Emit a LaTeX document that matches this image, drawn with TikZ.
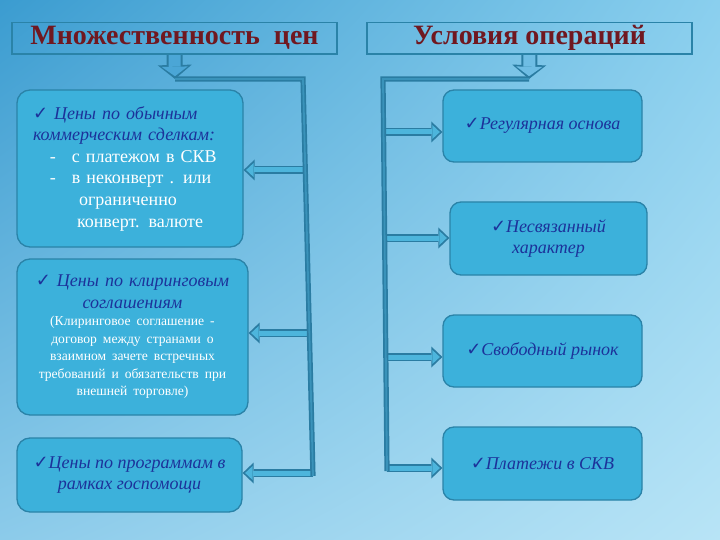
\documentclass[tikz,border=0pt]{standalone}
\usepackage{fontspec}
\setmainfont{Liberation Serif}
\newfontfamily\checkfont{DejaVu Sans}
\usetikzlibrary{arrows.meta,positioning,shadings}

\definecolor{bgTL}{HTML}{3B9CD0}
\definecolor{bgTR}{HTML}{8ACFEE}
\definecolor{bgBL}{HTML}{8CCBEA}
\definecolor{bgBR}{HTML}{B8E4F6}
\definecolor{boxfill}{HTML}{3CB1DB}
\definecolor{boxline}{HTML}{2A83A8}
\definecolor{busdark}{HTML}{2A7CA2}
\definecolor{busmid}{HTML}{3A93BA}
\definecolor{buslight}{HTML}{4DB5DC}
\definecolor{titlered}{HTML}{701820}
\definecolor{itemblue}{HTML}{1C329A}

\newcommand{\chk}{{\checkfont ✓}}

\begin{document}
\begin{tikzpicture}[x=1pt,y=-1pt,
    titlebox/.style={draw=boxline, line width=1.8pt, minimum width=325pt, minimum height=31pt,
        inner sep=0pt, text=titlered, font=\fontsize{28}{30}\selectfont\bfseries},
    itembox/.style={draw=boxline, fill=boxfill, line width=1.3pt, rounded corners=13pt,
        inner sep=0pt, text=itemblue, font=\fontsize{18}{21.6}\selectfont\itshape, align=center},
    bus/.style={draw=busdark, double=busmid, line width=1.7pt, double distance=1.8pt},
    arrowout/.style={draw=busdark, line width=8pt, -{Triangle[length=11pt,width=21pt,line width=0pt]}},
    arrowin/.style={draw=buslight, line width=5pt, shorten >=2.5pt, -{Triangle[length=7.5pt,width=14pt,line width=0pt]}},
    downout/.style={draw=busdark, line width=16pt, -{Triangle[length=14pt,width=34pt,line width=0pt]}},
    downin/.style={line width=12pt, shorten >=2.8pt, -{Triangle[length=9.5pt,width=26pt,line width=0pt]}}
]
    % Background
    \shade[upper left=bgTL, upper right=bgTR, lower left=bgBL, lower right=bgBR] (0,0) rectangle (720,540);
    \useasboundingbox (0,0) rectangle (720,540);

    % Titles
    \node[titlebox] (prices) at (174.5,38) {Множественность\ \ цен};
    \node[titlebox] (terms) at (529.5,38) {Условия операций};

    % Left column
    \node[itembox, minimum width=226pt, minimum height=157pt, text width=194pt, align=left] (l1) at (130,168.5)
        {\chk\ Цены по обычным\\коммерческим сделкам:\\
         \upshape\color{white}\hspace*{17pt}-\hspace{16pt}с платежом в СКВ\\
         \hspace*{17pt}-\hspace{16pt}в неконверт . или\\
         \hspace*{46pt}ограниченно\\
         \hspace*{44pt}конверт. валюте};
    \node[itembox, minimum width=231pt, minimum height=156pt, text width=225pt] (l2) at (132.5,337)
        {\chk\ Цены по клиринговым\\соглашениям\par
         {\fontsize{13.6}{17.5}\selectfont\upshape\color{white}(Клиринговое соглашение -\\
         договор между странами о\\взаимном зачете встречных\\
         требований и обязательств при\\внешней торговле)\par}};
    \node[itembox, minimum width=225pt, minimum height=74pt] (l3) at (129.5,475)
        {\chk Цены по программам в\\рамках госпомощи};

    % Right column
    \node[itembox, minimum width=199pt, minimum height=72pt, rounded corners=11pt] (r1) at (542.5,126) {\chk Регулярная основа};
    \node[itembox, minimum width=197pt, minimum height=73pt, rounded corners=11pt] (r2) at (548.5,238.5) {\chk Несвязанный\\характер};
    \node[itembox, minimum width=199pt, minimum height=72pt, rounded corners=11pt] (r3) at (542.5,351) {\chk Свободный рынок};
    \node[itembox, minimum width=199pt, minimum height=73pt, rounded corners=11pt] (r4) at (542.5,463.5) {\chk Платежи в СКВ};

    % Bus points
    \coordinate (lTip) at (175,79);
    \coordinate (lCorner) at (303,79);
    \coordinate (lEnd) at (313,476);
    \coordinate (lb1) at (305,170);
    \coordinate (lb2) at (309.5,333);
    \coordinate (lb3) at (313,473);
    \coordinate (rTip) at (529,79);
    \coordinate (rCorner) at (383,79);
    \coordinate (rEnd) at (387,471);
    \coordinate (rb1) at (384,132);
    \coordinate (rb2) at (385,238);
    \coordinate (rb3) at (386,357);
    \coordinate (rb4) at (387,468);

    % Down arrows under the titles
    \draw[downout] (prices.south) -- (lTip);
    \draw[downin, draw=bgTL!80!bgTR] (prices.south) -- (lTip);
    \draw[downout] (terms.south) -- (rTip);
    \draw[downin, draw=bgTL!35!bgTR] (terms.south) -- (rTip);
    \draw[titlebox] (prices.south west) -- (prices.south east);
    \draw[titlebox] (terms.south west) -- (terms.south east);

    % Arrows to the boxes
    \foreach \b/\n in {lb1/l1, lb2/l2, lb3/l3} {
        \draw[arrowout] (\b) -- (\b -| \n.east);
        \draw[arrowin] (\b) -- (\b -| \n.east);
    }
    \foreach \b/\n in {rb1/r1, rb2/r2, rb3/r3, rb4/r4} {
        \draw[arrowout] (\b) -- (\b -| \n.west);
        \draw[arrowin] (\b) -- (\b -| \n.west);
    }

    % Buses
    \draw[bus] (lTip) -- (lCorner) -- (lEnd);
    \draw[bus] (rTip) -- (rCorner) -- (rEnd);
\end{tikzpicture}
\end{document}
